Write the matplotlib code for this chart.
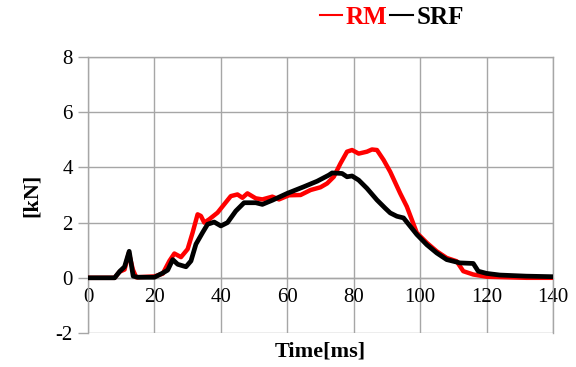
import numpy as np
import matplotlib.pyplot as plt
from matplotlib.lines import Line2D

plt.rcParams['font.family'] = ['Liberation Serif', 'DejaVu Serif']

# RM (red) and SRF (black) force-time histories
t_rm = [0, 8, 9.5, 11, 12.3, 13.5, 14.5, 20, 22.5, 24.5,
        26, 28, 30, 31.5, 33, 34, 35, 36.5, 39, 41,
        43, 45, 46.5, 48, 50.5, 52.5, 55.5, 57.5, 60.5, 64,
        67, 70, 72, 74, 76, 78, 79.5, 81.5, 84, 85.5,
        87, 89, 91, 94, 96, 99, 102, 105, 108, 111,
        113, 116, 120, 126, 132, 140]
f_rm = [0, 0, 0.22, 0.3, 0.9, 0.3, 0.02, 0.05, 0.15, 0.61,
        0.88, 0.75, 1.04, 1.64, 2.3, 2.24, 2.0, 2.12, 2.36, 2.66,
        2.96, 3.02, 2.9, 3.06, 2.88, 2.84, 2.94, 2.84, 2.99, 3.0,
        3.18, 3.28, 3.42, 3.66, 4.14, 4.57, 4.63, 4.5, 4.57, 4.65,
        4.63, 4.27, 3.84, 3.06, 2.58, 1.63, 1.27, 0.96, 0.72, 0.6,
        0.24, 0.12, 0.04, 0.02, 0.0, 0.0]

t_srf = [0, 8, 9.6, 11, 12.4, 13.6, 15, 20, 22.6, 24,
         25.5, 27, 29.5, 31, 32.5, 34.5, 36, 38, 40, 42,
         44.5, 47, 50.5, 52.5, 55.5, 60, 65, 69, 72.5, 73.5,
         76.5, 78, 79.5, 81.5, 84, 87, 89.5, 91, 93, 95,
         97, 99, 102, 105, 108, 112, 116, 117.5, 120, 124,
         132, 140]
f_srf = [0, 0, 0.24, 0.4, 0.96, 0.06, 0.02, 0.02, 0.18, 0.28,
         0.66, 0.49, 0.4, 0.61, 1.22, 1.64, 1.94, 2.02, 1.88, 2.0,
         2.42, 2.72, 2.72, 2.66, 2.81, 3.06, 3.3, 3.5, 3.72, 3.8,
         3.78, 3.66, 3.69, 3.54, 3.24, 2.82, 2.52, 2.35, 2.23, 2.17,
         1.87, 1.57, 1.2, 0.9, 0.66, 0.54, 0.52, 0.24, 0.16, 0.1,
         0.06, 0.04]

xticks = np.arange(0, 141, 20)
yticks = np.arange(-2, 9, 2)

fig = plt.figure(figsize=(5.76, 3.67), dpi=100)
ax = fig.add_axes([0.1528, 0.0926, 0.8072, 0.7521])

grid_c = '#a6a6a6'
ax.plot(t_rm, f_rm, color='red', lw=3.2, solid_joinstyle='round', zorder=3)
ax.plot(t_srf, f_srf, color='black', lw=3.4, solid_joinstyle='round', zorder=4)

ax.set_xlim(0, 140)
ax.set_ylim(-2, 8)
ax.set_xticks(xticks)
ax.set_yticks(yticks)
ax.set_yticklabels([str(v) for v in yticks])
ax.grid(True, color=grid_c, lw=1.0)
ax.set_axisbelow(True)

# x axis crosses at zero
ax.spines['bottom'].set_position(('data', 0))
for s in ax.spines.values():
    s.set_color(grid_c)
    s.set_linewidth(1.0)
ax.tick_params(axis='x', length=0, pad=7, labelsize=15)
ax.tick_params(axis='y', length=7, color=grid_c, width=1.0, pad=4, labelsize=15)

ax.set_xlabel('Time[ms]', fontsize=16, fontweight='bold')
ax.set_ylabel('[kN]', fontsize=16, fontweight='bold', labelpad=10)
ax.xaxis.set_label_coords(0.5, -0.03)

handles = [Line2D([], [], color='red', lw=1.5), Line2D([], [], color='black', lw=1.5)]
leg = fig.legend(handles, ['RM', 'SRF'], loc='center', bbox_to_anchor=(0.68, 0.952),
                 ncol=2, frameon=False, handlelength=0.9, handletextpad=0.15,
                 columnspacing=0.1, labelcolor=['red', 'black'],
                 prop={'family': 'Liberation Serif', 'weight': 'bold', 'size': 18})

fig.savefig('out.png', dpi=100)
